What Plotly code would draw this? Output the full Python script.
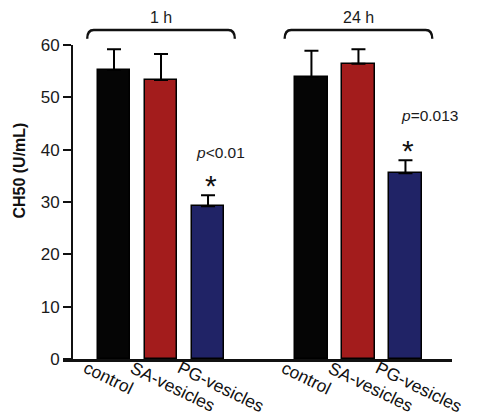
import plotly.graph_objects as go

# ---- data ----
groups = ["1 h", "24 h"]
categories = ["control", "SA-vesicles", "PG-vesicles"]
ch50_1h = [55.2, 53.3, 29.2]
err_1h = [4.0, 5.0, 2.1]
ch50_24h = [53.9, 56.4, 35.5]
err_24h = [5.0, 2.8, 2.5]
p_labels = ["<i>p</i><0.01", "<i>p</i>=0.013"]
y_ticks = [0, 10, 20, 30, 40, 50, 60]

# ---- styling / layout ----
colors = ["#050505", "#a31c1c", "#202366"]
group_starts = [0.0, 4.2]
p_dx = [0.26, 0.52]
p_dy = [8.1, 8.6]
FONT = "Liberation Sans, Arial, sans-serif"

fig = go.Figure()

series = [(ch50_1h, err_1h), (ch50_24h, err_24h)]
xs, ys, es, cs = [], [], [], []
for g, (vals, errs) in enumerate(series):
    for i, (v, e) in enumerate(zip(vals, errs)):
        xs.append(group_starts[g] + i)
        ys.append(v)
        es.append(e)
        cs.append(colors[i])

fig.add_trace(go.Bar(
    x=xs, y=ys, width=0.7,
    marker=dict(color=cs, line=dict(color="#000000", width=1.5)),
    error_y=dict(type="data", symmetric=False, array=es, arrayminus=[0] * len(es),
                 color="#000000", thickness=2, width=7),
    showlegend=False,
))

annotations = []
# category labels (rotated)
for g in range(2):
    for i, lab in enumerate(categories):
        annotations.append(dict(
            text=lab, x=group_starts[g] + i, xref="x", y=0, yref="paper",
            xanchor="left", yanchor="top", textangle=26, showarrow=False,
            xshift=-36, yshift=4,
            font=dict(family=FONT, size=17.5, color="#111111"),
        ))

# group labels + braces
shapes = []
half = 1.57
dx = 0.14
for g, name in enumerate(groups):
    c = group_starts[g] + 1
    x0, x1 = c - half, c + half
    yt, yb = 1.048, 1.020
    path = (f"M {x0},{yb} Q {x0},{yt} {x0 + dx},{yt} "
            f"L {x1 - dx},{yt} Q {x1},{yt} {x1},{yb}")
    shapes.append(dict(type="path", path=path, xref="x", yref="paper",
                       line=dict(color="#111111", width=2.4)))
    annotations.append(dict(
        text=name, x=c, xref="x", y=1.086, yref="paper", showarrow=False,
        xanchor="center", yanchor="middle",
        font=dict(family=FONT, size=16, color="#1a1a1a"),
    ))

# significance labels
for g in range(2):
    vals, errs = series[g]
    xpg = group_starts[g] + 2
    top = vals[2] + errs[2]
    annotations.append(dict(
        text="*", x=xpg + 0.06, xref="x", y=top, yref="y", showarrow=False,
        xanchor="center", yanchor="bottom", yshift=-9,
        font=dict(family=FONT, size=30, color="#111111"),
    ))
    annotations.append(dict(
        text=p_labels[g], x=xpg + p_dx[g], xref="x", y=top + p_dy[g], yref="y",
        showarrow=False, xanchor="center", yanchor="middle",
        font=dict(family=FONT, size=15.5, color="#1a1a1a"),
    ))

# y-axis title
annotations.append(dict(
    text="<b>CH50 (U/mL)</b>", x=0, xref="paper", y=0.60, yref="paper",
    xshift=-43, textangle=-90, showarrow=False, xanchor="center", yanchor="middle",
    font=dict(family=FONT, size=16, color="#111111"),
))

# page body has an 8px margin: shrink figure so plot area lands where it should
fig.update_layout(
    width=470, height=408,
    margin=dict(l=55, r=26, t=37, b=57),
    paper_bgcolor="white", plot_bgcolor="white",
    xaxis=dict(range=[-1.085, 7.19], showticklabels=False, ticks="",
               showline=True, linecolor="#111111", linewidth=2.5,
               showgrid=False, zeroline=False, fixedrange=True),
    yaxis=dict(range=[0, 60], tickvals=y_ticks, ticks="outside", ticklen=8,
               tickwidth=1.5, tickcolor="#111111", showline=True,
               linecolor="#111111", linewidth=1.8, showgrid=False, zeroline=False,
               anchor="free", position=0.023,
               tickfont=dict(family=FONT, size=17, color="#1a1a1a")),
    annotations=annotations, shapes=shapes,
    bargap=0, font=dict(family=FONT),
)

fig.write_html("out.html")
